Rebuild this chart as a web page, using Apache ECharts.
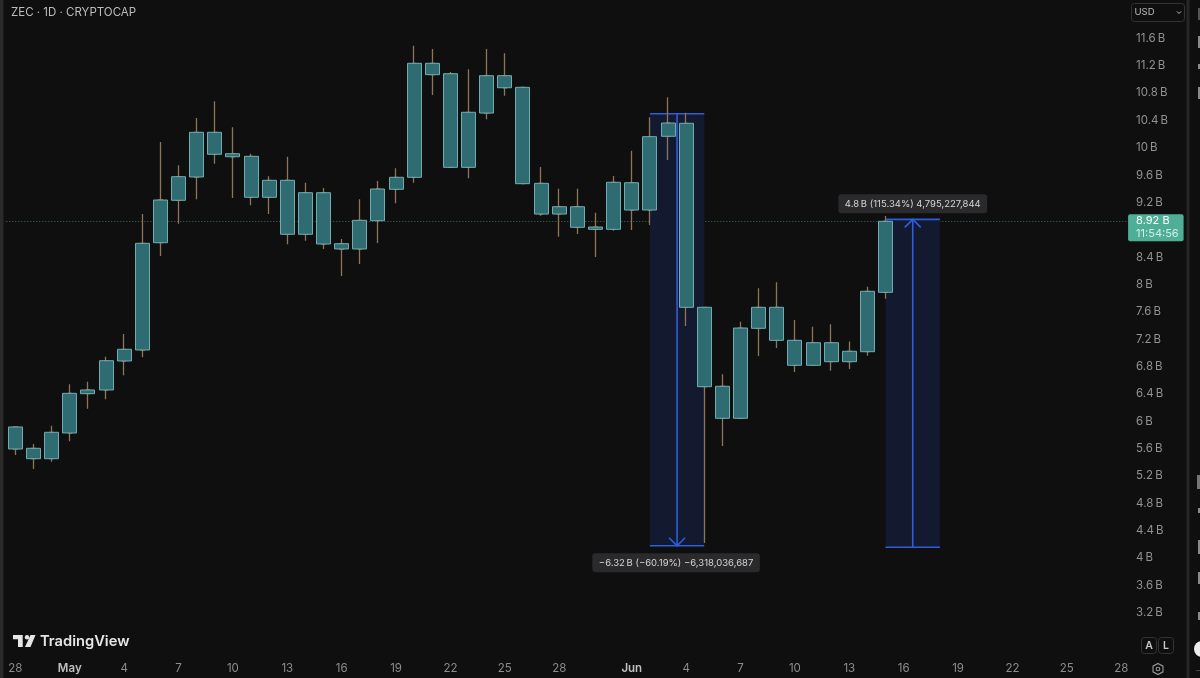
<!DOCTYPE html>
<html>
<head>
<meta charset="utf-8">
<style>html,body{margin:0;padding:0;background:#0f0f0f}#c{width:1200px;height:678px}</style>
<script src="https://cdn.jsdelivr.net/npm/echarts@6/dist/echarts.min.js"></script>
</head>
<body>
<div id="c"></div>
<script>
const dates = ["04-28","04-29","04-30","05-01","05-02","05-03","05-04","05-05","05-06","05-07","05-08","05-09","05-10","05-11","05-12","05-13","05-14","05-15","05-16","05-17","05-18","05-19","05-20","05-21","05-22","05-23","05-24","05-25","05-26","05-27","05-28","05-29","05-30","05-31","06-01","06-02","06-03","06-04","06-05","06-06","06-07","06-08","06-09","06-10","06-11","06-12","06-13","06-14","06-15","06-16","06-17","06-18","06-19","06-20","06-21","06-22","06-23","06-24","06-25","06-26","06-27","06-28"];
const tickDates = ["04-28","05-01","05-04","05-07","05-10","05-13","05-16","05-19","05-22","05-25","05-28","06-01","06-04","06-07","06-10","06-13","06-16","06-19","06-22","06-25","06-28"];
const tickLabels = ["28","May","4","7","10","13","16","19","22","25","28","Jun","4","7","10","13","16","19","22","25","28"];
const bodyTop = [5.916,5.604,5.838,6.408,6.457,6.885,7.052,8.602,9.235,9.576,10.225,10.225,9.912,9.874,9.523,9.523,9.342,9.342,8.596,8.938,9.396,9.567,11.234,11.234,11.082,10.518,11.053,11.053,10.883,9.479,9.137,9.137,8.840,9.494,9.488,10.161,10.361,10.357,7.666,6.511,7.363,7.666,7.666,7.183,7.148,7.148,7.023,7.900,8.924];
const bodyBottom = [5.594,5.452,5.452,5.828,6.403,6.457,6.881,7.042,8.611,9.231,9.572,9.904,9.868,9.275,9.275,8.734,8.734,8.592,8.519,8.519,8.933,9.392,9.567,11.068,9.713,9.713,10.507,10.877,9.474,9.030,9.030,8.836,8.807,8.807,9.089,9.089,10.167,7.666,6.505,6.043,6.043,7.359,7.183,6.818,6.818,6.871,6.871,7.017,7.885];
const wickHigh = [5.916,5.667,5.935,6.540,6.578,6.944,7.276,9.030,10.083,9.743,10.434,10.679,10.298,9.912,9.582,9.868,9.488,9.411,8.665,9.245,9.513,9.699,11.492,11.443,11.107,11.147,11.443,11.381,10.888,9.718,9.400,9.400,9.049,9.586,9.956,10.445,10.737,10.512,7.670,6.686,7.456,7.944,8.032,7.480,7.382,7.417,7.166,7.967,9.001];
const wickLow = [5.506,5.301,5.408,5.706,6.183,6.321,6.672,6.935,8.416,8.889,9.245,9.766,9.264,9.158,9.030,8.587,8.640,8.519,8.124,8.299,8.606,9.187,9.488,10.771,9.708,9.553,10.415,10.761,9.469,9.006,8.698,8.738,8.402,8.786,8.796,8.870,9.820,7.393,4.219,5.638,6.037,6.954,7.071,6.720,6.813,6.739,6.764,6.958,7.792];
const lastPrice = 8.924;
const priceText = "8.92 B";
const countdownText = "11:54:56";
// measuring tools: [startBar, endBar, fromPrice, toPrice, label]
const measureDown = [35, 38, 10.497, 4.179, "\u22126.32\u2009B (\u221260.19%) \u22126,318,036,687"];
const measureUp = [48, 51, 4.157, 8.952, "4.8\u2009B (115.34%) 4,795,227,844"];

const FONT = 'Inter, "Noto Sans", sans-serif';
const chart = echarts.init(document.getElementById('c'), null, {renderer:'canvas'});

function measureFill(params, api){
  const p0 = api.coord([api.value(0), api.value(2)]);
  const p1 = api.coord([api.value(1), api.value(3)]);
  return {type:'rect', shape:{x:p0[0], y:Math.min(p0[1],p1[1]), width:p1[0]-p0[0], height:Math.abs(p1[1]-p0[1])}, style:{fill:'#131a30'}};
}
function measureLines(params, api){
  const x0 = api.value(0), x1 = api.value(1), from = api.value(2), to = api.value(3);
  const a = api.coord([x0, from]), b = api.coord([x1, from]), c = api.coord([x0, to]), d = api.coord([x1, to]);
  const mx = (a[0]+b[0])/2, dir = to < from ? -1 : 1;
  const st = {stroke:'#2f5ddc', lineWidth:1.6, fill:null};
  return {type:'group', children:[
    {type:'line', shape:{x1:a[0],y1:a[1],x2:b[0],y2:b[1]}, style:st},
    {type:'line', shape:{x1:c[0],y1:c[1],x2:d[0],y2:d[1]}, style:st},
    {type:'line', shape:{x1:mx,y1:a[1],x2:mx,y2:c[1]}, style:st},
    {type:'polyline', shape:{points:[[mx-8,c[1]+dir*8],[mx,c[1]],[mx+8,c[1]+dir*8]]}, style:st}
  ]};
}
function measureLabel(params, api){
  const x0 = api.value(0), x1 = api.value(1), from = api.value(2), to = api.value(3);
  const p = api.coord([(x0+x1)/2, to]);
  const dir = to < from ? 1 : -1;
  const label = params.dataIndex === 0 ? measureDown[4] : measureUp[4];
  return {type:'text', style:{text:label, x:p[0]-(dir>0?1:0), y:p[1]+(dir>0?17:-15.5), align:'center', verticalAlign:'middle', fill:'#d6d6d6', font:'9.5px '+FONT,
    backgroundColor:'#2a2a2c', borderRadius:3, padding:[4.5,6.5,4.5,6.5]}};
}
function priceTag(params, api){
  const p = api.coord([api.value(0), api.value(1)]);
  return {type:'group', children:[
    {type:'rect', shape:{x:p[0]-2.2, y:p[1]-7, width:55.5, height:27, r:2}, style:{fill:'#4fae96'}},
    {type:'text', style:{text:priceText, x:p[0]+5.8, y:p[1]-0.5, verticalAlign:'middle', fill:'#ffffff', font:'11px '+FONT}},
    {type:'text', style:{text:countdownText, x:p[0]+5.8, y:p[1]+12.5, verticalAlign:'middle', fill:'#d5efe8', font:'11px '+FONT}}
  ]};
}

const candleWicks = bodyTop.map((t,i)=>[bodyBottom[i], t, wickLow[i], wickHigh[i]]);
const candleBodies = bodyTop.map((t,i)=>[bodyBottom[i], t, bodyBottom[i], t]);

const option = {
  backgroundColor:'#0f0f0f',
  animation:false,
  grid:{left:6.3, right:69.7, top:38.3, bottom:65.3},
  xAxis:[
    {type:'category', data:dates, boundaryGap:true, axisLine:{show:false}, axisTick:{show:false}, splitLine:{show:false},
     axisLabel:{interval:(i,name)=>tickDates.includes(name), margin:50, hideOverlap:false, fontFamily:FONT, fontSize:11.5, color:'#8c8c8c',
       formatter:(name)=>{const l=tickLabels[tickDates.indexOf(name)]; return (l==='May'||l==='Jun')?'{m|'+l+'}':l;},
       rich:{m:{color:'#c0c0c0',fontFamily:FONT,fontSize:11.5,fontWeight:600}}}},
    {type:'value', min:-0.5, max:61.5, show:false, splitLine:{show:false}}
  ],
  yAxis:{type:'value', position:'right', min:3.2, max:11.6, interval:0.4, axisLine:{show:false}, axisTick:{show:false}, splitLine:{show:false},
    axisLabel:{margin:5.8, fontFamily:FONT, fontSize:11.5, color:'#929292', formatter:(v)=>(+v.toFixed(1))+'\u2009B'}},
  series:[
    {type:'custom', xAxisIndex:1, z:1, clip:false, renderItem:measureFill, encode:{x:0,y:2}, data:[measureDown.slice(0,4), measureUp.slice(0,4)], silent:true},
    {type:'custom', xAxisIndex:1, z:2, clip:false, renderItem:measureLines, encode:{x:0,y:2}, data:[measureDown.slice(0,4), measureUp.slice(0,4)], silent:true},
    {type:'candlestick', z:3, barWidth:4, data:candleWicks,
     itemStyle:{color:'#8e7458',color0:'#8e7458',borderColor:'#8e7458',borderColor0:'#8e7458',borderColorDoji:'#8e7458',borderWidth:1.3},
     markLine:{silent:true, symbol:'none', label:{show:false}, data:[{yAxis:lastPrice}], lineStyle:{color:'#3f6f66',type:[1,2],width:1}, z:1}},
    {type:'candlestick', z:4, barWidth:14.5, data:candleBodies,
     itemStyle:{color:'#2e6c71',color0:'#2e6c71',borderColor:'#72acb0',borderColor0:'#72acb0',borderColorDoji:'#72acb0',borderWidth:1}},
    {type:'custom', xAxisIndex:1, z:5, clip:false, renderItem:measureLabel, encode:{x:0,y:2}, data:[measureDown.slice(0,4), measureUp.slice(0,4)], silent:true},
    {type:'custom', xAxisIndex:1, z:6, clip:false, renderItem:priceTag, encode:{x:0,y:1}, data:[[61.5,lastPrice]], silent:true}
  ],
  graphic:{elements:[
    {type:'rect', shape:{x:0,y:0,width:3.5,height:678}, style:{fill:'#2a2a2a'}, silent:true},
    {type:'rect', shape:{x:1186.5,y:0,width:3,height:678}, style:{fill:'#262626'}, silent:true},
    {type:'text', style:{text:'ZEC \u00b7 1D \u00b7 CRYPTOCAP', x:11, y:12.5, verticalAlign:'middle', fill:'#bcbcbc', font:'11.5px '+FONT}, silent:true},
    {type:'rect', shape:{x:1131.5,y:3.5,width:53,height:18,r:3}, style:{fill:'none',stroke:'#333333',lineWidth:1}, silent:true},
    {type:'text', style:{text:'USD', x:1134.5, y:12.5, verticalAlign:'middle', fill:'#bcbcbc', font:'9.5px '+FONT}, silent:true},
    {type:'polyline', shape:{points:[[1177,11.5],[1179,13.5],[1181,11.5]]}, style:{stroke:'#bcbcbc',lineWidth:1,fill:null}, silent:true},
    // TradingView logo
    {type:'polygon', shape:{points:[[13,635],[22.7,635],[22.7,647],[18,647],[18,639.3],[13,639.3]]}, style:{fill:'#e6e6e6'}, silent:true},
    {type:'circle', shape:{cx:27,cy:637.3,r:2.2}, style:{fill:'#e6e6e6'}, silent:true},
    {type:'polygon', shape:{points:[[30.5,635],[35.5,635],[30.5,647],[25,647]]}, style:{fill:'#e6e6e6'}, silent:true},
    {type:'text', style:{text:'TradingView', x:40, y:641.5, verticalAlign:'middle', fill:'#e6e6e6', font:'600 14.7px '+FONT}, silent:true},
    // A / L buttons
    {type:'rect', shape:{x:1141.5,y:637.5,width:15,height:16,r:3}, style:{fill:'none',stroke:'#333333'}, silent:true},
    {type:'text', style:{text:'A', x:1149, y:645.5, align:'center', verticalAlign:'middle', fill:'#c8c8c8', font:'600 10.5px '+FONT}, silent:true},
    {type:'rect', shape:{x:1158.5,y:637.5,width:15,height:16,r:3}, style:{fill:'none',stroke:'#333333'}, silent:true},
    {type:'text', style:{text:'L', x:1166, y:645.5, align:'center', verticalAlign:'middle', fill:'#c8c8c8', font:'600 10.5px '+FONT}, silent:true},
    // settings gear
    {type:'polygon', shape:{points:[[1158,663.5],[1163,666.2],[1163,671.8],[1158,674.5],[1153,671.8],[1153,666.2]]}, style:{fill:'none',stroke:'#9a9a9a',lineWidth:1.1}, silent:true},
    {type:'circle', shape:{cx:1158,cy:669,r:1.8}, style:{fill:'none',stroke:'#9a9a9a',lineWidth:1.1}, silent:true},
    // cropped toolbar edge
    {type:'rect', shape:{x:1198,y:8,width:2,height:12}, style:{fill:'#555555'}, silent:true},
    {type:'rect', shape:{x:1198,y:36,width:2,height:12}, style:{fill:'#8a8a8a'}, silent:true},
    {type:'rect', shape:{x:1198,y:64,width:2,height:5}, style:{fill:'#8a8a8a'}, silent:true},
    {type:'rect', shape:{x:1198,y:87,width:2,height:12}, style:{fill:'#8a8a8a'}, silent:true},
    {type:'rect', shape:{x:1197,y:475,width:3,height:14}, style:{fill:'#777777'}, silent:true},
    {type:'rect', shape:{x:1198,y:508,width:2,height:5}, style:{fill:'#8a8a8a'}, silent:true},
    {type:'rect', shape:{x:1198,y:540,width:2,height:14}, style:{fill:'#8a8a8a'}, silent:true},
    {type:'rect', shape:{x:1198,y:572,width:2,height:12}, style:{fill:'#8a8a8a'}, silent:true},
    {type:'rect', shape:{x:1198,y:612,width:2,height:8}, style:{fill:'#8a8a8a'}, silent:true},
    {type:'circle', shape:{cx:1202,cy:649,r:8}, style:{fill:'#ececec'}, silent:true},
    {type:'rect', shape:{x:1196,y:670,width:4,height:1}, style:{fill:'#444444'}, silent:true}
  ]}
};
chart.setOption(option);
</script>
</body>
</html>
